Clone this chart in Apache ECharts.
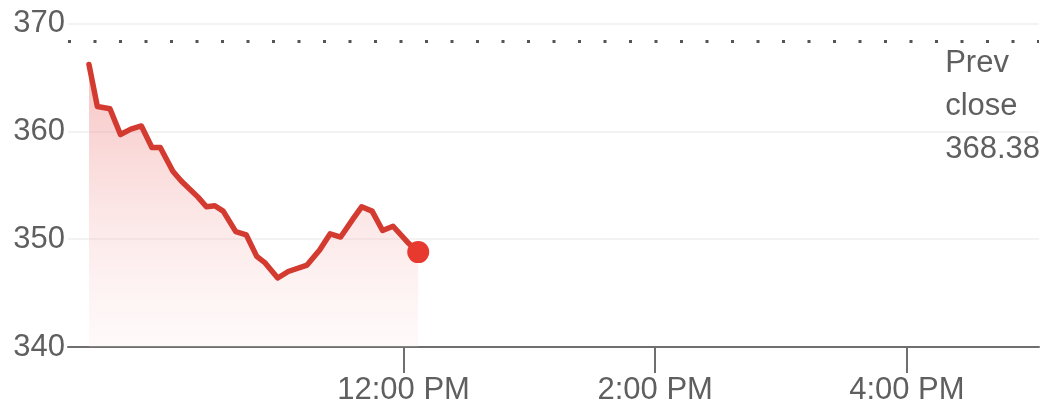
<!DOCTYPE html>
<html>
<head>
<meta charset="utf-8">
<script src="https://cdn.jsdelivr.net/npm/echarts@6/dist/echarts.min.js"></script>
<style>
html,body{margin:0;padding:0;background:#fff;}
#chart{width:1043px;height:406px;}
</style>
</head>
<body>
<div id="chart"></div>
<script>
// Minutes since midnight for each price point (9:30 AM open onward)
const times = [570, 574, 580, 585, 590, 595, 600, 604, 610, 614, 622, 626, 630, 634, 640, 645, 650, 654, 660, 665, 674, 680, 685, 690, 696, 700, 705, 710, 715, 722, 727];
const prices = [366.2, 362.3, 362.1, 359.7, 360.2, 360.5, 358.5, 358.5, 356.3, 355.4, 353.9, 353.0, 353.1, 352.6, 350.7, 350.4, 348.4, 347.8, 346.4, 347.0, 347.6, 349.0, 350.5, 350.2, 351.9, 353.0, 352.6, 350.8, 351.2, 349.7, 348.8];
const prevClose = 368.38;
const yTicks = [340, 350, 360, 370];
const xTickMinutes = [720, 840, 960];
const xTickLabels = ['12:00 PM', '2:00 PM', '4:00 PM'];
const xMin = 560, xMax = 1023;

const lineData = times.map((t, i) => [t, prices[i]]);
const lastPoint = lineData[lineData.length - 1];

const chart = echarts.init(document.getElementById('chart'), null, {renderer: 'canvas'});
const FONT = 'Liberation Sans, Arial, sans-serif';
const FS = 31;
chart.setOption({
  animation: false,
  backgroundColor: '#ffffff',
  grid: {left: 68, right: 4, top: 23.5, bottom: 56.5},
  xAxis: {
    type: 'value',
    min: xMin,
    max: xMax,
    axisLine: {show: true, lineStyle: {color: '#6f6f6f', width: 2}},
    axisTick: {show: true, customValues: xTickMinutes, length: 26, lineStyle: {color: '#6f6f6f', width: 2}},
    axisLabel: {
      customValues: xTickMinutes,
      margin: 28,
      color: '#5f5f5f',
      fontSize: FS,
      fontFamily: FONT,
      formatter: v => xTickLabels[xTickMinutes.indexOf(v)] || ''
    },
    splitLine: {show: false}
  },
  yAxis: {
    type: 'value',
    min: yTicks[0],
    max: yTicks[yTicks.length - 1],
    interval: 10,
    axisLine: {show: false},
    axisTick: {show: false},
    axisLabel: {margin: 3, color: '#5f5f5f', fontSize: FS, fontFamily: FONT},
    splitLine: {show: true, lineStyle: {color: '#f3f3f3', width: 2}}
  },
  series: [
    {
      type: 'line',
      data: lineData,
      showSymbol: false,
      symbol: 'none',
      lineStyle: {color: '#d43b30', width: 5.5, join: 'round', cap: 'round'},
      areaStyle: {
        origin: 'start',
        opacity: 1,
        color: new echarts.graphic.LinearGradient(0, 0, 0, 1, [
          {offset: 0, color: 'rgba(236,110,110,0.42)'},
          {offset: 1, color: 'rgba(252,225,225,0.18)'}
        ])
      },
      markLine: {
        silent: true,
        symbol: 'none',
        label: {show: false},
        lineStyle: {color: '#555555', width: 3, type: [3, 22.5], cap: 'butt'},
        data: [{yAxis: prevClose}]
      },
      z: 3
    },
    {
      type: 'scatter',
      data: [lastPoint],
      symbol: 'circle',
      symbolSize: 22,
      itemStyle: {color: '#e8392f', opacity: 1},
      z: 4
    }
  ],
  graphic: [{
    type: 'text',
    right: 3,
    top: 42,
    style: {
      text: 'Prev\nclose\n' + prevClose.toFixed(2),
      fill: '#5f5f5f',
      font: FS + 'px ' + FONT,
      lineHeight: 43,
      align: 'left'
    }
  }]
});
</script>
</body>
</html>
